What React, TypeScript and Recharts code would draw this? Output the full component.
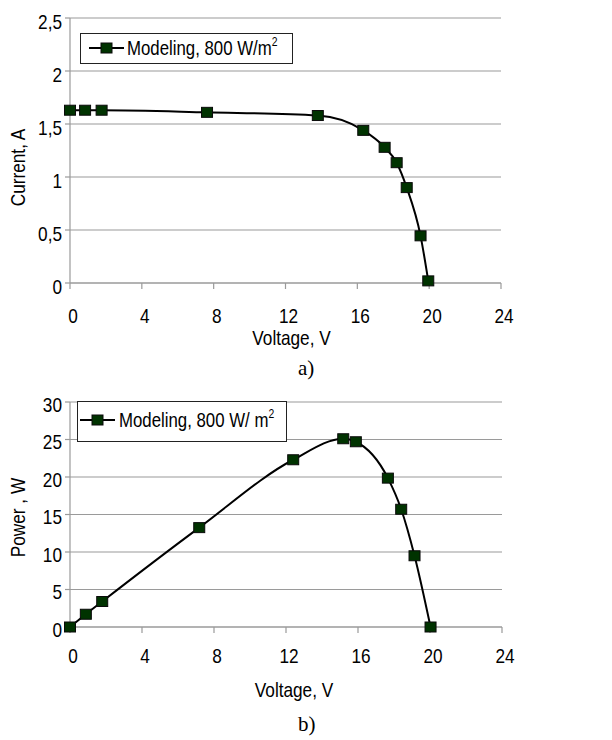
import React from 'react';
import { LineChart, Line, XAxis, YAxis, CartesianGrid, Legend } from 'recharts';

// ---- data ----
const voltageIV = [0, 0.84, 1.76, 7.63, 13.8, 16.33, 17.52, 18.19, 18.75, 19.52, 19.95];
const currentIV = [1.63, 1.63, 1.63, 1.61, 1.58, 1.44, 1.28, 1.135, 0.9, 0.445, 0.02];
const voltagePV = [0, 0.88, 1.79, 7.18, 12.4, 15.18, 15.88, 17.66, 18.4, 19.14, 20.03];
const powerPV = [0, 1.7, 3.4, 13.25, 22.3, 25.1, 24.7, 19.85, 15.7, 9.5, 0];

const voltageTicks = [0, 4, 8, 12, 16, 20, 24];
const currentTicks = [0, 0.5, 1, 1.5, 2, 2.5];
const powerTicks = [0, 5, 10, 15, 20, 25, 30];

const seriesName = 'Modeling, 800 W/m';
const seriesNameB = 'Modeling, 800 W/ m';
const xTitle = 'Voltage, V';
const yTitleA = 'Current, A';
const yTitleB = 'Power , W';
const panelLabels = ['a)', 'b)'];

const FONT = "'Liberation Sans', Arial, sans-serif";
const SERIF = "'Liberation Serif', 'Times New Roman', serif";
const GRID = '#9a9a9a';
const MARK = '#003300';
const FS = 21;
const SX = 0.82; // horizontal compression of the reference's condensed font

const ivData = voltageIV.map((v, i) => ({ v, y: currentIV[i] }));
const pvData = voltagePV.map((v, i) => ({ v, y: powerPV[i] }));

const commaFmt = (v: number) => String(v).replace('.', ',');

const SquareDot = (props: any) => {
  const { cx, cy, index } = props;
  if (cx == null || cy == null) return <g key={`n${index}`} />;
  return (
    <rect key={`d${index}`} x={cx - 5.5} y={cy - 5} width={11} height={10}
      fill={MARK} stroke="#0a0a0a" strokeWidth={1} />
  );
};

const CondText = ({ x, y, anchor, dy, children, rotate }: any) => (
  <g transform={`translate(${x},${y})${rotate ? ` rotate(${rotate})` : ''}`}>
    <text transform={`scale(${SX},1)`} x={0} y={0} dy={dy} textAnchor={anchor}
      fontFamily={FONT} fontSize={FS} fill="#000">{children}</text>
  </g>
);

const XTick = (props: any) => {
  const { x, y, payload } = props;
  return <CondText x={x + 3} y={y} anchor="middle" dy="0.72em">{payload.value}</CondText>;
};

const YTick = (fmt: (v: number) => string, shift: number) => (props: any) => {
  const { x, y, payload } = props;
  return <CondText x={x} y={y + shift} anchor="end" dy="0.36em">{fmt(payload.value)}</CondText>;
};

const makeLegend = (cfg: any) => () => (
  <div style={{
    position: 'relative', width: cfg.w, height: cfg.h, border: '1px solid #222',
    background: '#fff', boxSizing: 'border-box', fontFamily: FONT, color: '#000',
  }}>
    <svg style={{ position: 'absolute', left: cfg.lineX, top: cfg.iconY - 7 }} width={35} height={14}>
      <line x1={0} y1={7} x2={35} y2={7} stroke="#000" strokeWidth={2} />
      <rect x={12} y={2} width={11} height={10} fill={MARK} stroke="#0a0a0a" strokeWidth={1} />
    </svg>
    <span style={{
      position: 'absolute', left: cfg.textX, top: cfg.textTop, fontSize: FS,
      lineHeight: '21px', whiteSpace: 'nowrap', transform: 'scaleX(0.8)', transformOrigin: '0 0',
    }}>
      {cfg.name}
      <span style={{ position: 'relative', top: -9, fontSize: 13 }}>2</span>
    </span>
  </div>
);

const xLabel = (dx: number, fromBottom: number) => (props: any) => {
  const vb = props.viewBox || {};
  const x = (vb.x ?? 70) + (vb.width ?? 431) / 2 + dx;
  const y = (vb.y ?? 0) + (vb.height ?? 0) - fromBottom;
  return <CondText x={x} y={y} anchor="middle">{xTitle}</CondText>;
};

const yLabel = (text: string, dy: number, bx: number) => (props: any) => {
  const vb = props.viewBox || {};
  const cy = (vb.y ?? 0) + (vb.height ?? 0) / 2 + dy;
  return <CondText x={bx} y={cy} anchor="middle" rotate={-90}>{text}</CondText>;
};

export default function App() {
  return (
    <div style={{ position: 'absolute', left: 0, top: 0, width: 612, height: 740, background: '#fff' }}>
      <div style={{ position: 'absolute', left: 0, top: 0 }}>
        <LineChart width={612} height={350} data={ivData}
          margin={{ top: 18, right: 111, bottom: 0, left: 0 }}>
          <CartesianGrid vertical={false} stroke={GRID} strokeWidth={1.2} />
          <XAxis dataKey="v" type="number" domain={[0, 24]} ticks={voltageTicks}
            height={67} tickSize={6} tickMargin={19} stroke={GRID} strokeWidth={1.2}
            tick={<XTick />} label={xLabel(6, 5)} />
          <YAxis type="number" domain={[0, 2.5]} ticks={currentTicks} width={70}
            tickSize={5} tickMargin={3} stroke={GRID} strokeWidth={1.2}
            tick={YTick(commaFmt, 3)} label={yLabel(yTitleA, 17, 25)} />
          <Legend verticalAlign="middle" align="center" layout="horizontal"
            wrapperStyle={{ top: 33, left: 80, width: 'auto', height: 'auto' }}
            content={makeLegend({ w: 213, h: 31, lineX: 8, iconY: 14, textX: 46, textTop: 3, name: seriesName })} />
          <Line dataKey="y" type="monotone" stroke="#000" strokeWidth={2}
            dot={SquareDot} activeDot={false} isAnimationActive={false} />
        </LineChart>
      </div>
      <div style={{ position: 'absolute', left: 298, top: 356, fontFamily: SERIF, fontSize: 21, lineHeight: '24px' }}>
        {panelLabels[0]}
      </div>
      <div style={{ position: 'absolute', left: 0, top: 360 }}>
        <LineChart width={612} height={355} data={pvData}
          margin={{ top: 42, right: 110, bottom: 0, left: 0 }}>
          <CartesianGrid vertical={false} stroke={GRID} strokeWidth={1.2} />
          <XAxis dataKey="v" type="number" domain={[0, 24]} ticks={voltageTicks}
            height={88} tickSize={6} tickMargin={15} stroke={GRID} strokeWidth={1.2}
            tick={<XTick />} label={xLabel(8, 18)} />
          <YAxis type="number" domain={[0, 30]} ticks={powerTicks} width={70}
            tickSize={5} tickMargin={3} stroke={GRID} strokeWidth={1.2}
            tick={YTick(String, 2)} label={yLabel(yTitleB, 3, 25)} />
          <Legend verticalAlign="middle" align="center" layout="horizontal"
            wrapperStyle={{ top: 41, left: 77, width: 'auto', height: 'auto' }}
            content={makeLegend({ w: 210, h: 41, lineX: 2, iconY: 18, textX: 41, textTop: 7, name: seriesNameB })} />
          <Line dataKey="y" type="monotone" stroke="#000" strokeWidth={2}
            dot={SquareDot} activeDot={false} isAnimationActive={false} />
        </LineChart>
      </div>
      <div style={{ position: 'absolute', left: 298, top: 712, fontFamily: SERIF, fontSize: 21, lineHeight: '24px' }}>
        {panelLabels[1]}
      </div>
    </div>
  );
}
